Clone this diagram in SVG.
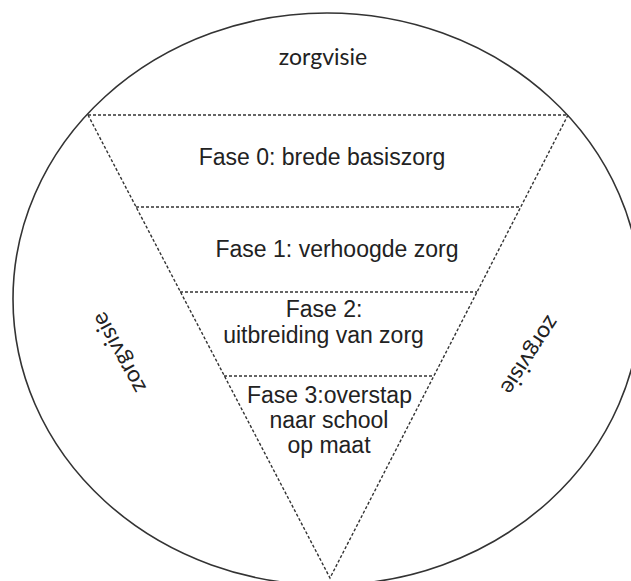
<svg xmlns="http://www.w3.org/2000/svg" width="631" height="581" viewBox="0 0 631 581">
<style>
.t{font-family:"Liberation Sans",Arial,sans-serif;font-size:23px;fill:#222;text-anchor:middle}
.v{font-family:Lato,"Open Sans",sans-serif;font-size:23px;fill:#222;text-anchor:middle}
.d{fill:none;stroke:#333;stroke-width:1.4;stroke-dasharray:3 2}
</style>
<rect width="631" height="581" fill="#fff"/>
<g id="circle">
<ellipse cx="327" cy="299" rx="314" ry="286" fill="none" stroke="#333" stroke-width="1.6"/>
</g>
<g id="connectors">
<path class="d" d="M88 115 L330 578 L568 115"/>
<line class="d" x1="88" y1="115" x2="568" y2="115"/>
<line class="d" x1="136" y1="207" x2="521" y2="207"/>
<line class="d" x1="180" y1="292" x2="477" y2="292"/>
<line class="d" x1="224" y1="376" x2="434" y2="376"/>
</g>
<g id="zorgvisie-top"><text class="v" x="323" y="65">zorgvisie</text></g>
<g id="zorgvisie-left"><text class="v" x="0" y="5.5" transform="translate(120.5,351.7) rotate(-118.7)">zorgvisie</text></g>
<g id="zorgvisie-right"><text class="v" x="0" y="5.5" transform="translate(528.3,354.2) rotate(122.9)">zorgvisie</text></g>
<g id="fase0"><text class="t" x="322" y="165">Fase 0: brede basiszorg</text></g>
<g id="fase1"><text class="t" x="337" y="257">Fase 1: verhoogde zorg</text></g>
<g id="fase2"><text class="t" x="324" y="317">Fase 2:</text><text class="t" x="323.5" y="343">uitbreiding van zorg</text></g>
<g id="fase3"><text class="t" x="329.5" y="403">Fase 3:overstap</text><text class="t" x="329" y="428">naar school</text><text class="t" x="329" y="453">op maat</text></g>
</svg>
